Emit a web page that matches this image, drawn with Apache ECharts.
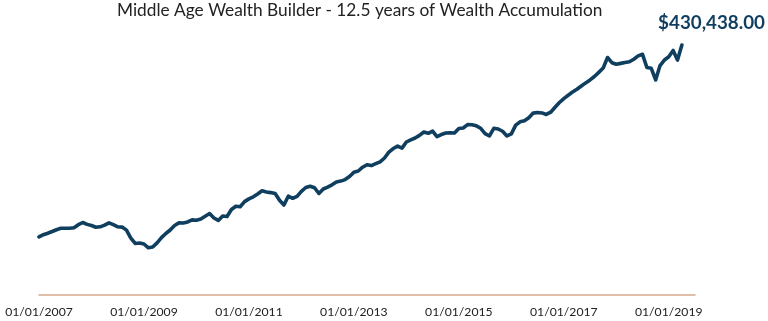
<!DOCTYPE html>
<html>
<head>
<meta charset="utf-8">
<script src="https://cdn.jsdelivr.net/npm/echarts@6/dist/echarts.min.js"></script>
<style>
html,body{margin:0;padding:0;background:#fff;}
#chart{width:768px;height:321px;}
</style>
</head>
<body>
<div id="chart"></div>
<script>
var chartTitle = "Middle Age Wealth Builder - 12.5 years of Wealth Accumulation";

// monthly categories 01/01/2007 .. 07/01/2019
var startYear = 2007, monthCount = 151;
var months = [];
for (var i = 0; i < monthCount; i++) {
  var m = (i % 12) + 1, y = startYear + Math.floor(i / 12);
  months.push((m < 10 ? "0" + m : "" + m) + "/01/" + y);
}

var portfolioValue = [
  100000,103800,106400,109300,112400,114800,114800,114800,115700,121000,
  124800,121600,119700,116700,117400,120200,124300,121000,117400,116900,
  111700,98100,88700,89400,87800,81300,82600,89700,98800,105900,
  111900,119700,124100,124000,125700,129300,128800,130900,135700,140200,
  132600,128400,136000,135300,147200,152700,152000,160800,165500,169100,
  173900,179400,177500,176300,174900,163200,155000,170100,166500,169900,
  178500,185100,187300,184700,174800,182500,185800,189700,194700,196100,
  198700,204000,211400,213500,220000,224300,222800,226100,229300,235900,
  245900,252200,256400,252900,263400,267200,270300,274800,280600,278400,
  282200,272600,276300,278800,279100,278900,286800,287500,293400,293000,
  291300,287000,277900,273800,287000,285800,281900,273800,277500,292400,
  298200,299900,305300,313200,314200,313500,310900,314700,323200,331400,
  338200,344000,349500,354200,359800,365200,370300,376200,383300,390700,
  408900,400000,397400,398800,400300,401500,406000,411700,414400,391700,
  390300,370200,395100,404600,410100,421000,404600,430438
];

var finalValue = portfolioValue[portfolioValue.length - 1];
var finalLabel = "$" + finalValue.toLocaleString("en-US", {minimumFractionDigits: 2, maximumFractionDigits: 2});

var chart = echarts.init(document.getElementById("chart"), null, {renderer: "canvas"});
chart.setOption({
  animation: false,
  backgroundColor: "#ffffff",
  title: [
    {
      text: chartTitle,
      left: 117, top: 2, padding: 0,
      textStyle: {fontFamily: "Lato", fontSize: 17.3, fontWeight: "normal", color: "#222222"}
    },
    {
      text: finalLabel,
      right: 3, top: 13, padding: 0,
      textStyle: {fontFamily: "Lato", fontSize: 18.8, fontWeight: "bold", color: "#0f3e5f"}
    }
  ],
  grid: {left: 39, right: 73, top: 4.6, bottom: 26, containLabel: false},
  xAxis: {
    type: "category",
    data: months,
    boundaryGap: false,
    axisLine: {lineStyle: {color: "#d6a98b", width: 1.5}},
    axisTick: {show: false},
    splitLine: {show: false},
    axisLabel: {
      interval: function (idx) { return idx % 24 === 0; },
      margin: 11,
      fontFamily: "Lato", fontSize: 12.2, color: "#222222"
    }
  },
  yAxis: {
    type: "value", min: 0, max: 500000, show: false,
    splitLine: {show: false}
  },
  series: [{
    type: "line",
    data: portfolioValue,
    symbol: "none",
    smooth: false,
    lineStyle: {color: "#0f3e5f", width: 3.6, join: "round", cap: "round"}
  }]
});
</script>
</body>
</html>
